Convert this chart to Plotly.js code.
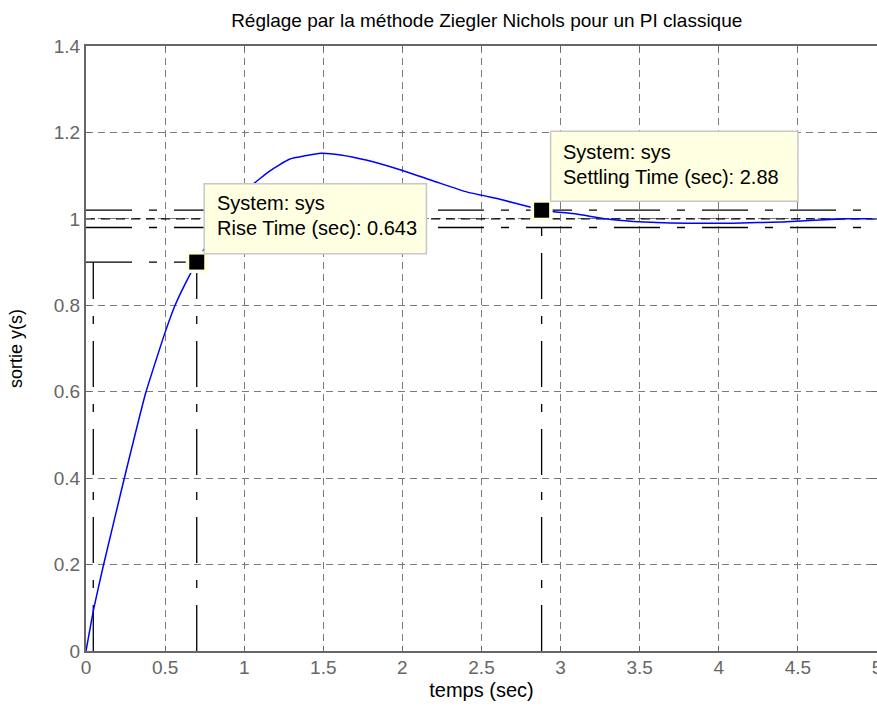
<!DOCTYPE html>
<html>
<head>
<meta charset="utf-8">
<script src="https://cdn.plot.ly/plotly-3.0.1.min.js"></script>
<style>html,body{margin:0;padding:0;background:#fff;overflow:hidden;}#chart{width:877px;height:713px;}</style>
</head>
<body>
<div id="chart"></div>
<script>
// ---- data ----
const time = [0, 0.05, 0.108, 0.241, 0.378, 0.498, 0.563, 0.63, 0.70, 0.77, 0.85, 0.95, 1.04, 1.158, 1.285, 1.485, 1.61, 1.77, 1.99, 2.21, 2.40, 2.63, 2.80, 2.88, 3.1, 3.28, 3.46, 3.8, 4.09, 4.4, 4.81, 5.0];
const response = [0, 0.10, 0.195, 0.398, 0.598, 0.735, 0.80, 0.852, 0.90, 0.945, 0.995, 1.04, 1.075, 1.11, 1.138, 1.152, 1.148, 1.136, 1.113, 1.086, 1.063, 1.044, 1.028, 1.02, 1.011, 1.0, 0.994, 0.99, 0.99, 0.993, 1.0, 1.0];
const riseTimes = [0.046, 0.70];      // 10% and 90% crossing times
const riseLevel = 0.9;
const settleTime = 2.88;
const settleLevel = 1.02;
const bandLevels = [0.98, 1.02];
const steadyState = 1.0;
const xTicks = [0, 0.5, 1, 1.5, 2, 2.5, 3, 3.5, 4, 4.5, 5];
const xTickLabels = ["0", "0.5", "1", "1.5", "2", "2.5", "3", "3.5", "4", "4.5", "5"];
const yTicks = [0, 0.2, 0.4, 0.6, 0.8, 1, 1.2, 1.4];
const yTickLabels = ["0", "0.2", "0.4", "0.6", "0.8", "1", "1.2", "1.4"];
const tipTitle = "System: sys";
const riseLabel = "Rise Time (sec): 0.643";
const settleLabel = "Settling Time (sec): 2.88";
const chartTitle = "Réglage par la méthode Ziegler Nichols pour un PI classique";
const xLabel = "temps (sec)";
const yLabel = "sortie y(s)";

// ---- styles ----
const dashDot = "46px,17px,8px,17px";
const blk = {color: "#000", width: 1.3, dash: dashDot};
const xMax = xTicks[xTicks.length - 1];
const sans = "Liberation Sans, Arial, Helvetica, sans-serif";

const traces = [];
bandLevels.forEach(v => traces.push({x: [0, xMax], y: [v, v], mode: "lines", line: blk, hoverinfo: "skip"}));
traces.push({x: [0, xMax], y: [steadyState, steadyState], mode: "lines", line: {color: "#000", width: 1.3, dash: "9px,6px"}, hoverinfo: "skip"});
traces.push({x: [0, riseTimes[1]], y: [riseLevel, riseLevel], mode: "lines", line: blk, hoverinfo: "skip"});
riseTimes.forEach(t => traces.push({x: [t, t], y: [0, riseLevel], mode: "lines", line: blk, hoverinfo: "skip"}));
traces.push({x: [settleTime, settleTime], y: [0, settleLevel], mode: "lines", line: blk, hoverinfo: "skip"});
traces.push({x: time, y: response, mode: "lines", line: {color: "#0000ff", width: 1.5, shape: "spline", smoothing: 0.4}});
const tipX = [riseTimes[1], settleTime];
const tipY = [riseLevel, settleLevel];
traces.push({x: tipX, y: tipY, mode: "markers", marker: {symbol: "square", size: 22, color: "#ffffe1"}, hoverinfo: "skip"});
traces.push({x: tipX, y: tipY, mode: "markers", marker: {symbol: "square", size: 15, color: "#000"}, hoverinfo: "skip"});

const boxes = [
  {x0: 0.747, x1: 2.152, y0: 0.919, y1: 1.081, lines: [[tipTitle, 1.0375], [riseLabel, 0.979]], tx: 0.816},
  {x0: 2.937, x1: 4.500, y0: 1.041, y1: 1.203, lines: [[tipTitle, 1.1555], [settleLabel, 1.096]], tx: 3.0}
];
const shapes = boxes.map(b => ({type: "rect", xref: "x", yref: "y", x0: b.x0, x1: b.x1, y0: b.y0, y1: b.y1,
  fillcolor: "#ffffe1", line: {color: "#c8c8c8", width: 1.5}, layer: "above"}));
const annotations = [];
boxes.forEach(b => b.lines.forEach(([txt, yy]) => annotations.push({
  x: b.tx, y: yy, xref: "x", yref: "y", xanchor: "left", yanchor: "middle", showarrow: false,
  text: txt, font: {family: sans, size: 20, color: "#000"}
})));

const axisCommon = {
  showline: true, mirror: "ticks", linecolor: "#666", linewidth: 2,
  showgrid: true, gridcolor: "#7a7a7a", gridwidth: 1, griddash: "7px,5px",
  ticks: "inside", ticklen: 5, tickcolor: "#666", tickwidth: 1,
  zeroline: false, tickmode: "array",
  tickfont: {family: sans, size: 19, color: "#666"}
};

const layout = {
  width: 877, height: 713,
  margin: {l: 86, r: 0, t: 46, b: 62},
  paper_bgcolor: "#fff", plot_bgcolor: "#fff",
  showlegend: false,
  title: {text: chartTitle, x: 0.555, xanchor: "center", y: 0.972, yanchor: "middle",
          font: {family: sans, size: 19, color: "#000"}},
  xaxis: Object.assign({}, axisCommon, {range: [0, xMax], tickvals: xTicks, ticktext: xTickLabels,
          ticklabeloverflow: "allow", ticklabelstandoff: -2,
          title: {text: xLabel, standoff: 6, font: {family: sans, size: 20, color: "#000"}}}),
  yaxis: Object.assign({}, axisCommon, {range: [0, 1.4], tickvals: yTicks, ticktext: yTickLabels,
          title: {text: yLabel, standoff: 26, font: {family: sans, size: 18, color: "#000"}}}),
  shapes: shapes,
  annotations: annotations
};

Plotly.newPlot("chart", traces, layout, {displayModeBar: false, staticPlot: true});
</script>
</body>
</html>
